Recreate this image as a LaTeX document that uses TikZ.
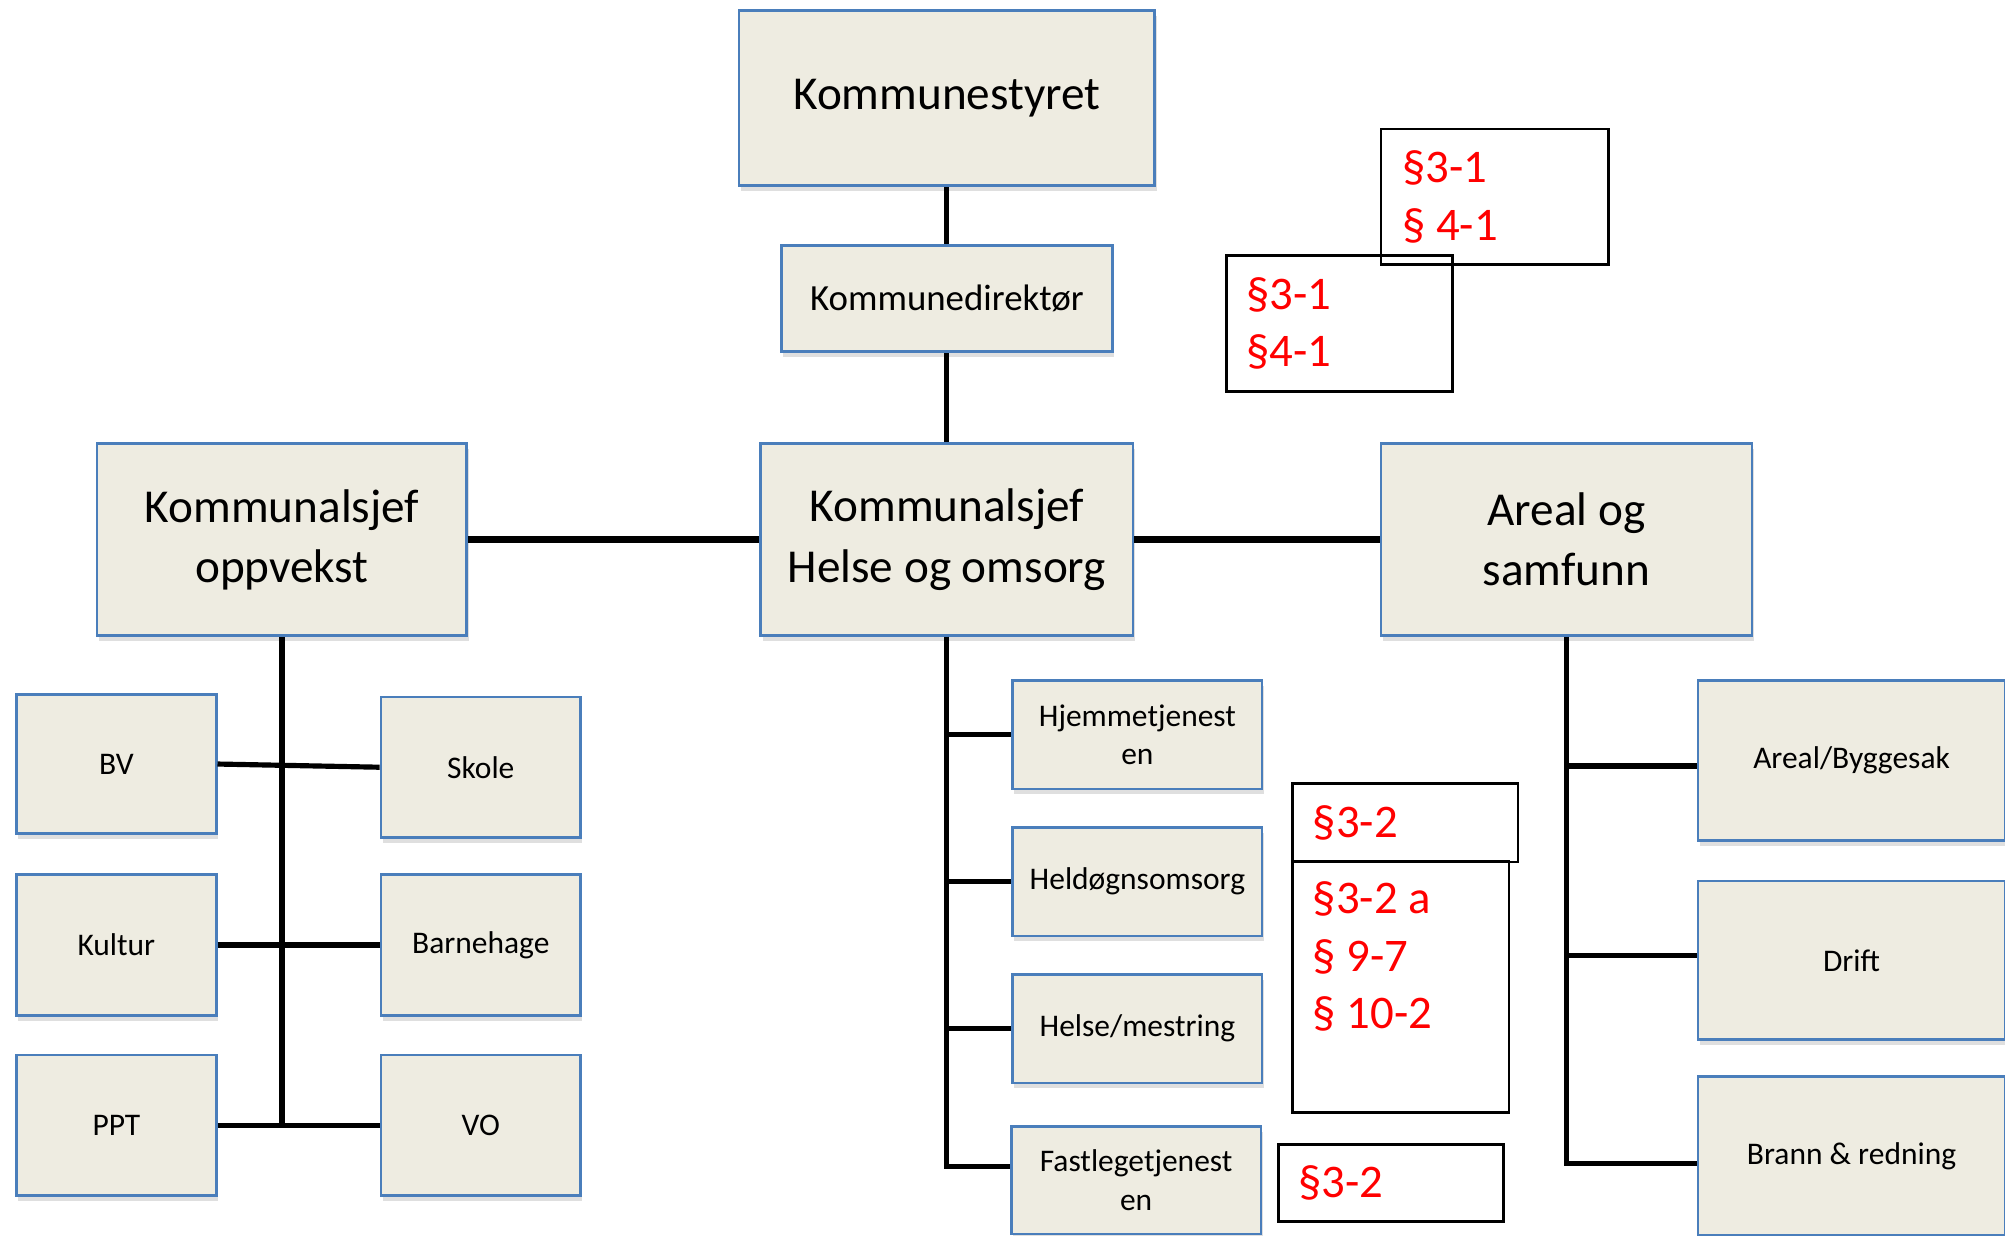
\documentclass[tikz,border=0pt]{standalone}
\usepackage{fontspec}
\setmainfont{Carlito}
\usetikzlibrary{positioning,shadows}

\definecolor{boxfill}{HTML}{EEECE1}
\definecolor{boxline}{HTML}{4A7EBB}

\tikzset{
  orgbox/.style={draw=boxline, fill=boxfill, line width=0.6pt, inner sep=0pt,
    align=center, drop shadow={shadow xshift=0.4pt, shadow yshift=-1.2pt, opacity=0.25}},
  bigbox/.style={orgbox, font=\fontsize{10.5}{13.4}\selectfont},
  midbox/.style={orgbox, font=\fontsize{8.2}{10}\selectfont},
  smallbox/.style={orgbox, font=\fontsize{7}{8.5}\selectfont},
  lawbox/.style={draw=black, line width=0.6pt, inner sep=0pt},
  lawtext/.style={text=red, align=left, inner sep=0pt, font=\fontsize{10.4}{12.8}\selectfont},
  link/.style={line width=1.15pt},
  mainlink/.style={line width=1.4pt}
}

\begin{document}
\begin{tikzpicture}[x=0.01cm,y=-0.01cm]
  \useasboundingbox (0,0) rectangle (1568,966);

  % top of the tree
  \node[bigbox, minimum width=3.25cm, minimum height=1.37cm] (styret) at (740.5,76.5) {Kommunestyret};
  \node[midbox, minimum width=2.59cm, minimum height=0.83cm] (direktor) at (740.5,233.5) {Kommunedirektør};
  \node[bigbox, minimum width=2.89cm, minimum height=1.5cm] (oppvekst) at (220.5,422) {Kommunalsjef\\oppvekst};
  \node[bigbox, minimum width=2.91cm, minimum height=1.5cm] (helse) at (740.5,422) {Kommunalsjef\\Helse og omsorg};
  \node[bigbox, minimum width=2.9cm, minimum height=1.5cm] (areal) at (1225,422) {Areal og\\samfunn};

  % oppvekst
  \node[smallbox, minimum width=1.56cm, minimum height=1.09cm] (bv) at (91,597.5) {BV};
  \node[smallbox, minimum width=1.56cm, minimum height=1.1cm] (skole) at (376,600) {Skole};
  \node[smallbox, minimum width=1.56cm, minimum height=1.1cm] (kultur) at (91,739) {Kultur};
  \node[smallbox, minimum width=1.56cm, minimum height=1.1cm] (barnehage) at (376,739) {Barnehage};
  \node[smallbox, minimum width=1.56cm, minimum height=1.1cm] (ppt) at (91,880) {PPT};
  \node[smallbox, minimum width=1.56cm, minimum height=1.1cm] (vo) at (376,880) {VO};

  % helse og omsorg
  \node[smallbox, minimum width=1.95cm, minimum height=0.85cm] (hjemme) at (889.5,574.5) {Hjemmetjenest\\en};
  \node[smallbox, minimum width=1.95cm, minimum height=0.85cm] (heldogn) at (889.5,689.5) {Heldøgnsomsorg};
  \node[smallbox, minimum width=1.95cm, minimum height=0.85cm] (mestring) at (889.5,804.5) {Helse/mestring};
  \node[smallbox, minimum width=1.95cm, minimum height=0.84cm] (fastlege) at (888.5,923) {Fastlegetjenest\\en};

  % areal og samfunn
  \node[smallbox, minimum width=2.4cm, minimum height=1.25cm] (byggesak) at (1448,594.5) {Areal/Byggesak};
  \node[smallbox, minimum width=2.4cm, minimum height=1.24cm] (drift) at (1448,751) {Drift};
  \node[smallbox, minimum width=2.4cm, minimum height=1.24cm] (brann) at (1448,904) {Brann \& redning};

  % paragrafer
  \node[lawbox, minimum width=1.78cm, minimum height=1.06cm] (lawA) at (1169,154) {};
  \node[lawtext, anchor=west] (lawAt) at ([xshift=0.17cm]lawA.west) {§3-1\\§ 4-1};
  \node[lawbox, minimum width=1.77cm, minimum height=1.06cm] (lawB) at (1047.5,253) {};
  \node[lawtext, anchor=west] (lawBt) at ([xshift=0.16cm]lawB.west) {§3-1\\§4-1};
  \node[lawbox, minimum width=1.76cm, minimum height=0.61cm] (lawC) at (1099,643.5) {};
  \node[lawtext, anchor=west] (lawCt) at ([xshift=0.16cm]lawC.west) {§3-2};
  \node[lawbox, minimum width=1.69cm, minimum height=1.96cm] (lawD) at (1095.5,772) {};
  \node[lawtext, anchor=north west] (lawDt) at ([xshift=0.16cm,yshift=-0.16cm]lawD.north west) {§3-2 a\\§ 9-7\\§ 10-2};
  \node[lawbox, minimum width=1.76cm, minimum height=0.6cm] (lawE) at (1088,925) {};
  \node[lawtext, anchor=west] (lawEt) at ([xshift=0.16cm]lawE.west) {§3-2};

  % connectors
  \draw[link] (styret.south) -- (direktor.north);
  \draw[link] (direktor.south) -- (helse.north);
  \draw[mainlink] (oppvekst.east) -- (helse.west);
  \draw[mainlink] (helse.east) -- (areal.west);

  \draw[link] (oppvekst.south) -- (oppvekst.south |- ppt.east);
  \foreach \a/\b in {bv/skole,kultur/barnehage,ppt/vo}
    \draw[link] (\a.east) -- (\b.west);

  \foreach \c in {hjemme,heldogn,mestring}
    \draw[link] (helse.south) |- (\c.west);
  \draw[link] (helse.south) |- ([yshift=0.11cm]fastlege.west);

  \draw[link] (areal.south) |- ([yshift=-0.045cm]byggesak.west);
  \draw[link] (areal.south) |- ([yshift=0.04cm]drift.west);
  \draw[link] (areal.south) |- ([yshift=-0.06cm]brann.west);
\end{tikzpicture}
\end{document}
